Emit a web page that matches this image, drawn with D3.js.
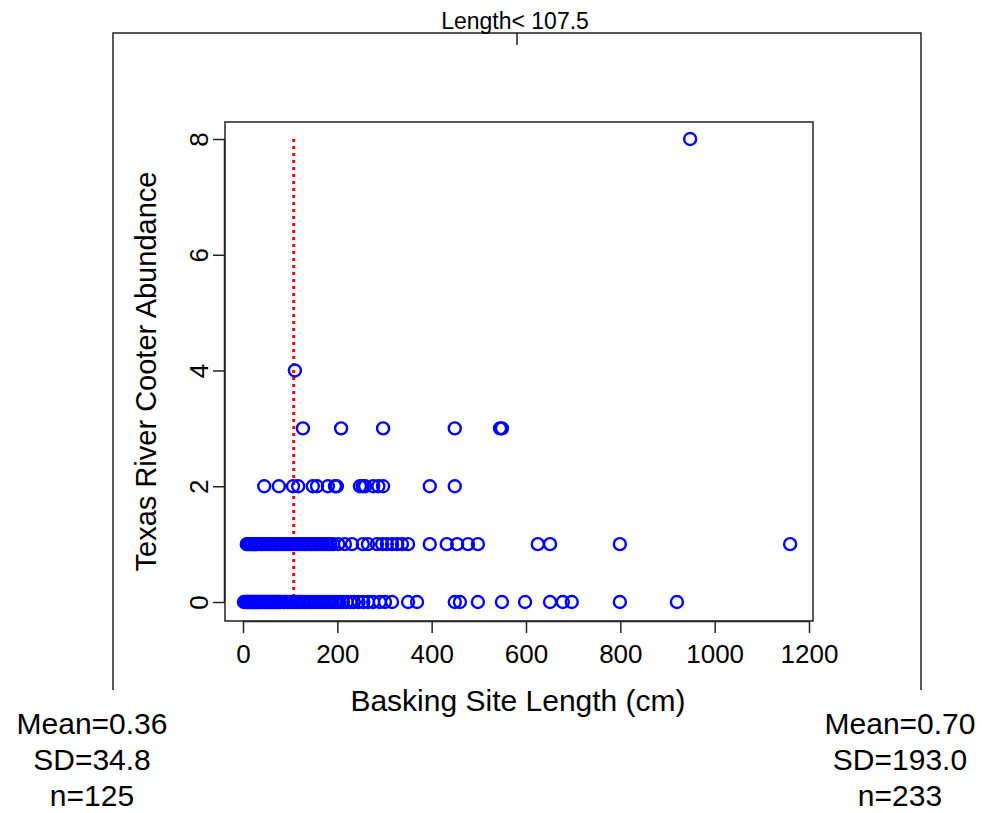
<!DOCTYPE html>
<html>
<head>
<meta charset="utf-8">
<script src="https://cdn.jsdelivr.net/npm/d3@7"></script>
<style>
  body { margin: 0; background: #fff; }
  text { font-family: "Liberation Sans", Arial, sans-serif; fill: #000; }
</style>
</head>
<body>
<div id="chart"></div>
<script>
// basking site length (cm) for each abundance level
const length0 = [2, 5, 8, 10, 12, 15, 18, 20, 22, 25, 28, 30, 33, 35, 38, 40, 43, 45, 48, 50, 53, 55, 58, 60, 63, 65, 68, 70, 73, 75, 78, 80, 85, 88, 90, 95, 100, 105, 110, 113, 118, 120, 125, 130, 135, 140, 145, 150, 155, 160, 165, 170, 175, 180, 185, 190, 195, 200, 205, 212, 220, 228, 235, 245, 255, 265, 276, 290, 301, 316, 350, 369, 449, 460, 498, 549, 598, 651, 678, 697, 799, 920];
const length1 = [8, 10, 12, 15, 18, 20, 25, 28, 30, 35, 40, 45, 50, 55, 60, 65, 70, 75, 80, 85, 90, 95, 100, 105, 110, 115, 120, 125, 130, 135, 140, 145, 150, 155, 160, 165, 170, 175, 180, 185, 191, 202, 216, 231, 254, 265, 284, 295, 305, 316, 327, 337, 350, 396, 432, 454, 477, 498, 625, 651, 799, 1160];
const length2 = [45, 76, 106, 117, 148, 157, 180, 195, 199, 248, 254, 259, 276, 287, 297, 396, 449];
const length3 = [127, 208, 297, 449, 545, 549];
const length4 = [110];
const length8 = [948];

const xTicks = [0, 200, 400, 600, 800, 1000, 1200];
const yTicks = [0, 2, 4, 6, 8];
const splitValue = 107.5;
const leftStats = ["Mean=0.36", "SD=34.8", "n=125"];
const rightStats = ["Mean=0.70", "SD=193.0", "n=233"];

const points = [];
[[0, length0], [1, length1], [2, length2], [3, length3], [4, length4], [8, length8]]
  .forEach(([a, arr]) => arr.forEach(l => points.push({length: l, abundance: a})));

const width = 987, height = 813;
const box = {left: 225, right: 813, top: 122, bottom: 621};

const svg = d3.select("#chart").append("svg")
  .attr("width", width)
  .attr("height", height);

const x = d3.scaleLinear().domain([0, 1200]).range([243, 809]);
const y = d3.scaleLinear().domain([0, 8]).range([602, 139]);

// tree frame (split node)
svg.append("path")
  .attr("d", `M113,690 V33 H921 V690 M517,33 V45`)
  .attr("fill", "none")
  .attr("stroke", "#222")
  .attr("stroke-width", 1.5);

svg.append("text")
  .attr("x", 515).attr("y", 29)
  .attr("text-anchor", "middle")
  .style("font-size", "23px")
  .text("Length< " + splitValue);

// plot box
svg.append("rect")
  .attr("x", box.left).attr("y", box.top)
  .attr("width", box.right - box.left).attr("height", box.bottom - box.top)
  .attr("fill", "none").attr("stroke", "#222").attr("stroke-width", 1.5);

// x axis
const gx = svg.append("g")
  .attr("transform", `translate(0,${box.bottom})`)
  .call(d3.axisBottom(x).tickValues(xTicks).tickFormat(d3.format("d"))
    .tickSize(12).tickPadding(12).tickSizeOuter(0));
gx.select(".domain").attr("d", `M${x(0)},0.5H${x(1200)}`).attr("stroke", "#222").attr("stroke-width", 1.5);
gx.selectAll(".tick line").attr("stroke", "#222").attr("stroke-width", 1.5);
gx.selectAll(".tick text")
  .style("font-size", "26px")
  .style("font-family", "'Liberation Sans', Arial, sans-serif");

// y axis
const gy = svg.append("g")
  .attr("transform", `translate(${box.left},0)`)
  .call(d3.axisLeft(y).tickValues(yTicks).tickSize(12).tickSizeOuter(0));
gy.select(".domain").attr("d", `M-0.5,${y(0)}V${y(8)}`).attr("stroke", "#222").attr("stroke-width", 1.5);
gy.selectAll(".tick line").attr("stroke", "#222").attr("stroke-width", 1.5);
gy.selectAll(".tick text")
  .attr("x", 0)
  .attr("transform", "translate(-17,0) rotate(-90)")
  .attr("text-anchor", "middle")
  .attr("dy", "0em")
  .style("font-size", "26px")
  .style("font-family", "'Liberation Sans', Arial, sans-serif");

// axis titles
svg.append("text")
  .attr("x", (box.left + box.right) / 2 - 1).attr("y", 711)
  .attr("text-anchor", "middle")
  .style("font-size", "30px")
  .text("Basking Site Length (cm)");

svg.append("text")
  .attr("transform", `translate(156,${(box.top + box.bottom) / 2}) rotate(-90)`)
  .attr("text-anchor", "middle")
  .style("font-size", "29px")
  .text("Texas River Cooter Abundance");

// split line
svg.append("line")
  .attr("x1", x(splitValue)).attr("x2", x(splitValue))
  .attr("y1", y(8)).attr("y2", y(0))
  .attr("stroke", "red")
  .attr("stroke-width", 3)
  .attr("stroke-dasharray", "3,4");

// points
svg.append("g")
  .selectAll("circle")
  .data(points)
  .join("circle")
    .attr("cx", d => x(d.length))
    .attr("cy", d => y(d.abundance))
    .attr("r", 6)
    .attr("fill", "none")
    .attr("stroke", "blue")
    .attr("stroke-width", 2.4);

// leaf stats
[[92, leftStats], [900, rightStats]].forEach(([cx, lines]) => {
  svg.append("g").selectAll("text")
    .data(lines)
    .join("text")
      .attr("x", cx)
      .attr("y", (d, i) => 734 + i * 36)
      .attr("text-anchor", "middle")
      .style("font-size", "30px")
      .text(d => d);
});
</script>
</body>
</html>
